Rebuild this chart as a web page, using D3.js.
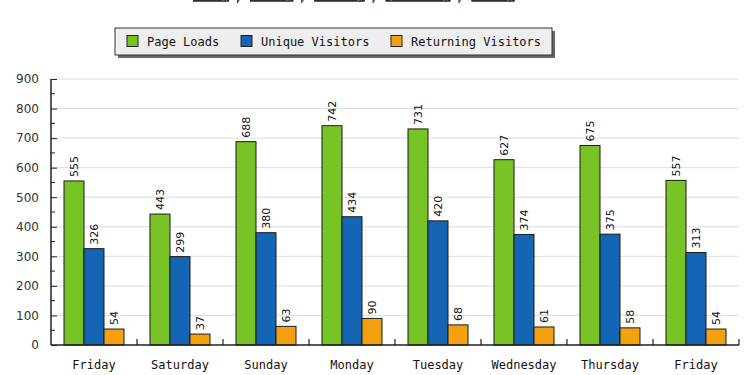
<!DOCTYPE html>
<html>
<head>
<meta charset="utf-8">
<script src="https://cdn.jsdelivr.net/npm/d3@7"></script>
<style>
body { margin: 0; background: #fff; }
svg { display: block; }
</style>
</head>
<body>
<div id="chart"></div>
<script>
// data
let days = ["Friday", "Saturday", "Sunday", "Monday", "Tuesday", "Wednesday", "Thursday", "Friday"]
let pageLoads = [555, 443, 688, 742, 731, 627, 675, 557]
let uniqueVisitors = [326, 299, 380, 434, 420, 374, 375, 313]
let returningVisitors = [54, 37, 63, 90, 68, 61, 58, 54]
let seriesNames = ["Page Loads", "Unique Visitors", "Returning Visitors"]
let seriesColors = ["#78c325", "#1565b5", "#f3a10f"]
let periodLinks = ["Daily", "Weekly", "Monthly", "Quarterly", "Yearly"]
let yTicks = [0, 100, 200, 300, 400, 500, 600, 700, 800, 900]

let series = [pageLoads, uniqueVisitors, returningVisitors]

let width = 750, height = 375
let margin = {top: 79, right: 11, bottom: 30, left: 51}
let innerW = width - margin.left - margin.right
let innerH = height - margin.top - margin.bottom

let svg = d3.select("#chart").append("svg")
	.attr("width", width)
	.attr("height", height)

// period links, cut off at the top edge
let linkG = svg.append("g")
	.attr("font-family", "'DejaVu Sans Mono', monospace")
	.attr("font-size", 12)
	.attr("fill", "#222")
let lx = 193
periodLinks.forEach(function(p, i) {
	linkG.append("text")
		.attr("x", lx).attr("y", -1)
		.attr("text-decoration", "underline")
		.text(p)
	linkG.append("line")
		.attr("x1", lx).attr("x2", lx + p.length * 7.2)
		.attr("y1", 1).attr("y2", 1)
		.attr("stroke", "#333").attr("stroke-width", 1.3)
	lx += p.length * 7.2
	if (i < periodLinks.length - 1) {
		linkG.append("text").attr("x", lx + 6).attr("y", -1).text("|")
		linkG.append("rect").attr("x", lx + 8).attr("y", 0).attr("width", 1.2).attr("height", 3).attr("fill", "#333")
		lx += 21
	}
})

// legend
let legend = svg.append("g").attr("transform", "translate(115,28)")
legend.append("rect")
	.attr("x", 3).attr("y", 3).attr("width", 437).attr("height", 27)
	.attr("fill", "#666")
legend.append("rect")
	.attr("x", 0).attr("y", 0).attr("width", 437).attr("height", 27)
	.attr("fill", "#eeeeee").attr("stroke", "#333").attr("stroke-width", 1)
let legendX = [12, 126, 276]
seriesNames.forEach(function(name, i) {
	legend.append("rect")
		.attr("x", legendX[i]).attr("y", 7.5).attr("width", 11).attr("height", 11)
		.attr("fill", seriesColors[i]).attr("stroke", "#222")
	legend.append("text")
		.attr("x", legendX[i] + 20).attr("y", 18)
		.attr("font-family", "'DejaVu Sans Mono', monospace")
		.attr("font-size", 12)
		.attr("fill", "#111")
		.text(name)
})

let g = svg.append("g").attr("transform", "translate(" + margin.left + "," + margin.top + ")")

let x = d3.scaleBand()
	.domain(d3.range(days.length))
	.range([0, innerW])

let y = d3.scaleLinear()
	.domain([0, 900])
	.range([innerH, 0])

let barW = 20
let groupOffset = (x.bandwidth() - barW * 3) / 2

// grid lines
g.append("g").selectAll("line")
	.data(yTicks.filter(d => d > 0))
	.enter().append("line")
	.attr("x1", 0).attr("x2", innerW)
	.attr("y1", d => y(d)).attr("y2", d => y(d))
	.attr("stroke", "#dddddd").attr("stroke-width", 1)

// bars
series.forEach(function(values, s) {
	let sg = g.append("g")
	sg.selectAll("rect")
		.data(values)
		.enter().append("rect")
		.attr("x", (d, i) => x(i) + groupOffset + s * barW)
		.attr("y", d => y(d))
		.attr("width", barW)
		.attr("height", d => innerH - y(d))
		.attr("fill", seriesColors[s])
		.attr("stroke", "#1a1a1a").attr("stroke-width", 1)

	sg.selectAll("text")
		.data(values)
		.enter().append("text")
		.attr("transform", (d, i) => "translate(" + (x(i) + groupOffset + s * barW + barW / 2 + 4) + "," + (y(d) - 4) + ") rotate(-90)")
		.attr("font-family", "'DejaVu Sans', sans-serif")
		.attr("font-size", 11)
		.attr("fill", "#111")
		.text(d => d)
})

// y axis
let yAxis = d3.axisLeft(y).tickValues(yTicks).tickSize(6).tickPadding(6)
let ya = g.append("g").call(yAxis)
ya.select(".domain").attr("stroke", "#222").attr("stroke-width", 1.5).attr("d", "M0," + innerH + "V0")
ya.selectAll(".tick line").attr("stroke", "#222").attr("x2", 0).attr("x1", 0).attr("x2", 6)
ya.selectAll(".tick text")
	.attr("font-family", "'DejaVu Sans', sans-serif")
	.attr("font-size", 12)
	.attr("fill", "#333")
	.attr("x", -12)
// minor ticks
g.append("g").selectAll("line")
	.data(d3.range(50, 900, 100))
	.enter().append("line")
	.attr("x1", 0).attr("x2", 4)
	.attr("y1", d => y(d)).attr("y2", d => y(d))
	.attr("stroke", "#222")

// x axis
g.append("line")
	.attr("x1", 0).attr("x2", innerW)
	.attr("y1", innerH).attr("y2", innerH)
	.attr("stroke", "#222").attr("stroke-width", 1.5)
g.append("g").selectAll("line")
	.data(d3.range(1, days.length + 1))
	.enter().append("line")
	.attr("x1", d => x.step() * d).attr("x2", d => x.step() * d)
	.attr("y1", innerH).attr("y2", innerH - 6)
	.attr("stroke", "#222").attr("stroke-width", 1.2)
g.append("g").selectAll("text")
	.data(days)
	.enter().append("text")
	.attr("x", (d, i) => x(i) + x.bandwidth() / 2)
	.attr("y", innerH + 24)
	.attr("text-anchor", "middle")
	.attr("font-family", "'DejaVu Sans Mono', monospace")
	.attr("font-size", 12)
	.attr("fill", "#111")
	.text(d => d)
</script>
</body>
</html>
